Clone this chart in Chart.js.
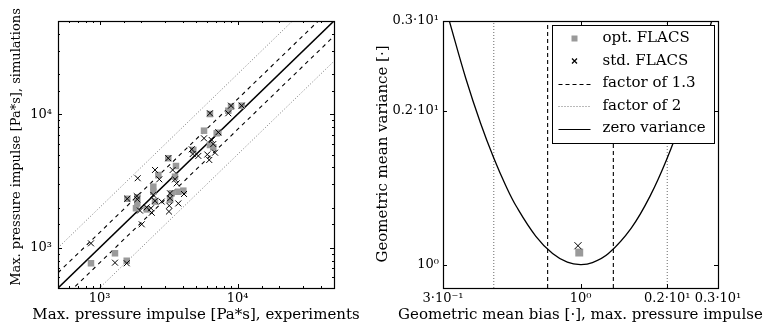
<!DOCTYPE html>
<html>
<head>
<meta charset="utf-8">
<script src="https://cdn.jsdelivr.net/npm/chart.js@4/dist/chart.umd.min.js"></script>
<style>
    html, body { margin: 0; padding: 0; background: #fff; }
    #wrap { position: relative; width: 773px; height: 333px; }
    #left { position: absolute; left: 0; top: 0; }
    #right { position: absolute; left: 370px; top: 0; }
</style>
</head>
<body>
<div id="wrap">
    <canvas id="left" width="370" height="333"></canvas>
    <canvas id="right" width="403" height="333"></canvas>
</div>
<script>
// left panel: max. pressure impulse [Pa*s], experiment vs simulation
const stdExp = [8970, 10720, 8570, 6310, 5715, 7258, 6500, 6670, 4656, 4732, 5199, 6039, 6237, 6871, 3148, 3388, 2523, 1890, 2710, 3523, 3622, 1589, 1860, 1878, 2453, 2523, 3243, 4093, 3243, 3723, 3200, 3184, 1964, 2360, 2390, 2197, 2022, 2820, 1294, 1574, 867];
const stdSim = [11610, 11610, 10180, 10180, 6610, 7330, 6420, 5990, 5470, 5040, 4880, 5000, 4550, 5160, 4690, 3830, 3830, 3320, 3260, 3260, 3040, 2330, 2440, 2310, 2490, 2250, 2560, 2530, 2350, 2150, 2070, 1870, 1900, 1980, 1830, 2010, 1500, 2220, 774, 766, 1080];
const optExp = [8970, 10720, 6310, 8570, 5715, 7258, 6310, 6670, 4779, 3148, 3581, 2667, 3523, 2453, 2453, 3334, 3723, 4046, 3243, 1589, 1878, 1878, 1837, 2523, 1294, 1574, 2197, 867, 7063];
const optSim = [11400, 11610, 10050, 10640, 7540, 7280, 5890, 5660, 5410, 4690, 4100, 3510, 3410, 2870, 2630, 2560, 2630, 2680, 2280, 2330, 2390, 2150, 1980, 2220, 910, 800, 1940, 766, 7210];

// reference lines (end points)
const refX = [500, 50000];
const refOne = [500, 50000];
const refUp13 = [650, 65000];
const refDn13 = [385, 38500];
const refUp2 = [1000, 100000];
const refDn2 = [250, 25000];
const impulseTicks = [1000, 10000];
const impulseLabels = ['10³', '10⁴'];

// right panel: geometric mean bias / variance
const optBias = [0.99];
const optVar = [1.056];
const stdBias = [0.98];
const stdVar = [1.089];
const zeroBias = [0.35, 0.4, 0.45, 0.5, 0.55, 0.6, 0.7, 0.8, 0.9, 1.0, 1.1, 1.25, 1.5, 1.75, 2.0, 2.25, 2.5, 2.85];
const zeroVar = [3.01, 2.315, 1.892, 1.617, 1.429, 1.298, 1.136, 1.051, 1.011, 1.0, 1.009, 1.051, 1.179, 1.368, 1.617, 1.93, 2.315, 2.995];
const f13Bias = [0.769, 1.3];
const f2Bias = [0.5, 2.0];
const varSpan = [0.9, 3.0];
const biasTicks = [0.3333, 1, 2, 3];
const biasLabels = ['3·10⁻¹', '10⁰', '0.2·10¹', '0.3·10¹'];
const varTicks = [1, 2, 3];
const varLabels = ['10⁰', '0.2·10¹', '0.3·10¹'];

const SERIF = "'DejaVu Serif', serif";
const GREY = '#9a9a9a';

const pts = (xs, ys) => xs.map((v, i) => ({ x: v, y: ys[i] }));

function lineSet(data, dash, color, width) {
    return {
        data, showLine: true, pointRadius: 0, borderColor: color,
        borderWidth: width, borderDash: dash, fill: false
    };
}

// matplotlib-like frame with inward ticks
const frameTicks = {
    id: 'frameTicks',
    afterDatasetsDraw(chart, args, opts) {
        const { ctx, chartArea: a, scales: { x, y } } = chart;
        const isMajor = v => opts.allMajor || Math.abs(Math.log10(v) - Math.round(Math.log10(v))) < 1e-6;
        ctx.save();
        ctx.strokeStyle = '#000';
        ctx.lineWidth = 1;
        ctx.beginPath();
        x.ticks.forEach(t => {
            const px = Math.round(x.getPixelForValue(t.value)) + 0.5;
            const len = isMajor(t.value) ? 4 : 2;
            ctx.moveTo(px, a.bottom); ctx.lineTo(px, a.bottom - len);
            ctx.moveTo(px, a.top); ctx.lineTo(px, a.top + len);
        });
        y.ticks.forEach(t => {
            const py = Math.round(y.getPixelForValue(t.value)) + 0.5;
            const len = isMajor(t.value) ? 4 : 2;
            ctx.moveTo(a.left, py); ctx.lineTo(a.left + len, py);
            ctx.moveTo(a.right, py); ctx.lineTo(a.right - len, py);
        });
        ctx.stroke();
        ctx.lineWidth = 1.2;
        ctx.strokeRect(Math.round(a.left) + 0.5, Math.round(a.top) + 0.5, Math.round(a.width), Math.round(a.height));
        ctx.restore();
    }
};

// axis titles drawn without the width squeeze Chart.js applies
const axisTitles = {
    id: 'axisTitles',
    afterDraw(chart, args, opts) {
        const { ctx, chartArea: a } = chart;
        ctx.save();
        ctx.fillStyle = '#000';
        ctx.textAlign = 'center';
        ctx.textBaseline = 'middle';
        ctx.font = opts.xSize + 'px ' + SERIF;
        ctx.fillText(opts.xText, (a.left + a.right) / 2, opts.xY);
        ctx.translate(opts.yX, opts.yY);
        ctx.rotate(-Math.PI / 2);
        ctx.font = opts.ySize + 'px ' + SERIF;
        ctx.fillText(opts.yText, 0, 0);
        ctx.restore();
    }
};

function axis(opts) {
    return {
        type: 'logarithmic',
        bounds: 'data',
        min: opts.min, max: opts.max,
        grid: { display: false, drawTicks: false },
        border: { display: false },
        afterFit: opts.fit,
        afterBuildTicks: opts.tickValues ? s => { s.ticks = opts.tickValues.map(v => ({ value: v })); } : undefined,
        ticks: {
            autoSkip: false, maxRotation: 0, padding: opts.pad,
            color: '#000', font: { family: SERIF, size: 13 },
            callback: opts.label
        },
        title: { display: false }
    };
}

new Chart(document.getElementById('left'), {
    type: 'scatter',
    data: {
        datasets: [
            { data: pts(stdExp, stdSim), pointStyle: 'crossRot', pointRadius: 4.2, borderColor: '#000', borderWidth: 1, backgroundColor: '#000' },
            { data: pts(optExp, optSim), pointStyle: 'rect', pointRadius: 4.6, borderWidth: 0, backgroundColor: GREY },
            lineSet(pts(refX, refOne), [], '#000', 1.6),
            lineSet(pts(refX, refUp13), [4, 4], '#000', 1.1),
            lineSet(pts(refX, refDn13), [4, 4], '#000', 1.1),
            lineSet(pts(refX, refUp2), [1, 2], '#777', 1),
            lineSet(pts(refX, refDn2), [1, 2], '#777', 1)
        ]
    },
    options: {
        responsive: false, animation: false,
        layout: { padding: { top: 21, right: 36, left: 0, bottom: 0 } },
        plugins: {
            legend: { display: false }, tooltip: { enabled: false },
            frameTicks: { allMajor: false },
            axisTitles: {
                xText: 'Max. pressure impulse [Pa*s], experiments', xSize: 15, xY: 315,
                yText: 'Max. pressure impulse [Pa*s], simulations', ySize: 13, yX: 17, yY: 147
            }
        },
        scales: {
            x: axis({
                min: 500, max: 50000, pad: 3,
                fit: s => { s.height = 45; },
                label: v => { const i = impulseTicks.indexOf(v); return i >= 0 ? impulseLabels[i] : ''; }
            }),
            y: axis({
                min: 500, max: 50000, pad: 6,
                fit: s => { s.width = 58; },
                label: v => { const i = impulseTicks.indexOf(v); return i >= 0 ? impulseLabels[i] : ''; }
            })
        }
    },
    plugins: [frameTicks, axisTitles]
});

const legendRows = [
    { text: 'opt. FLACS', kind: 'rect' },
    { text: 'std. FLACS', kind: 'cross' },
    { text: 'factor of 1.3', kind: 'line', dash: [4, 3], color: '#000' },
    { text: 'factor of 2', kind: 'line', dash: [1, 2], color: '#777' },
    { text: 'zero variance', kind: 'line', dash: [], color: '#000' }
];

const boxLegend = {
    id: 'boxLegend',
    afterDatasetsDraw(chart) {
        const { ctx, chartArea: a } = chart;
        const w = 162, h = 118;
        const left = Math.round(a.right - 4 - w) + 0.5, top = Math.round(a.top + 4) + 0.5;
        ctx.save();
        ctx.fillStyle = '#fff';
        ctx.fillRect(left, top, w, h);
        ctx.strokeStyle = '#000';
        ctx.lineWidth = 1;
        ctx.strokeRect(left, top, w, h);
        ctx.font = '15px ' + SERIF;
        ctx.textBaseline = 'middle';
        legendRows.forEach((r, i) => {
            const cy = top + 13 + i * 22.5;
            const cx = left + 22;
            if (r.kind === 'rect') {
                ctx.fillStyle = GREY;
                ctx.fillRect(cx - 3, cy - 3, 6, 6);
            } else if (r.kind === 'cross') {
                ctx.strokeStyle = '#000';
                ctx.lineWidth = 1.2;
                ctx.beginPath();
                ctx.moveTo(cx - 2.5, cy - 2.5); ctx.lineTo(cx + 2.5, cy + 2.5);
                ctx.moveTo(cx + 2.5, cy - 2.5); ctx.lineTo(cx - 2.5, cy + 2.5);
                ctx.stroke();
            } else {
                ctx.strokeStyle = r.color;
                ctx.lineWidth = 1.1;
                ctx.setLineDash(r.dash);
                ctx.beginPath();
                ctx.moveTo(left + 6, Math.round(cy) + 0.5); ctx.lineTo(left + 38, Math.round(cy) + 0.5);
                ctx.stroke();
                ctx.setLineDash([]);
            }
            ctx.fillStyle = '#000';
            ctx.fillText(r.text, left + 50, cy);
        });
        ctx.restore();
    }
};

const vline = (xv, dash, color) => lineSet([{ x: xv, y: varSpan[0] }, { x: xv, y: varSpan[1] }], dash, color, 1.1);

new Chart(document.getElementById('right'), {
    type: 'scatter',
    data: {
        datasets: [
            { data: pts(stdBias, stdVar), pointStyle: 'crossRot', pointRadius: 5, borderColor: '#000', borderWidth: 1, backgroundColor: '#000' },
            { data: pts(optBias, optVar), pointStyle: 'rect', pointRadius: 5.6, borderWidth: 0, backgroundColor: GREY },
            Object.assign(lineSet(pts(zeroBias, zeroVar), [], '#000', 1.3), { tension: 0.4 }),
            vline(f13Bias[0], [4, 3], '#000'),
            vline(f13Bias[1], [4, 3], '#000'),
            vline(f2Bias[0], [1, 2], '#777'),
            vline(f2Bias[1], [1, 2], '#777')
        ]
    },
    options: {
        responsive: false, animation: false,
        layout: { padding: { top: 21, right: 55, left: 0, bottom: 0 } },
        plugins: {
            legend: { display: false }, tooltip: { enabled: false },
            frameTicks: { allMajor: true },
            axisTitles: {
                xText: 'Geometric mean bias [·], max. pressure impulse', xSize: 15, xY: 315,
                yText: 'Geometric mean variance [·]', ySize: 15, yX: 13, yY: 154
            }
        },
        scales: {
            x: axis({
                min: 0.3333, max: 3, pad: 3,
                tickValues: biasTicks,
                fit: s => { s.height = 45; },
                label: v => { const i = biasTicks.indexOf(v); return i >= 0 ? biasLabels[i] : ''; }
            }),
            y: axis({
                min: 0.9, max: 3, pad: 4,
                tickValues: varTicks,
                fit: s => { s.width = 73; },
                label: v => { const i = varTicks.indexOf(v); return i >= 0 ? varLabels[i] : ''; }
            })
        }
    },
    plugins: [frameTicks, boxLegend, axisTitles]
});
</script>
</body>
</html>
